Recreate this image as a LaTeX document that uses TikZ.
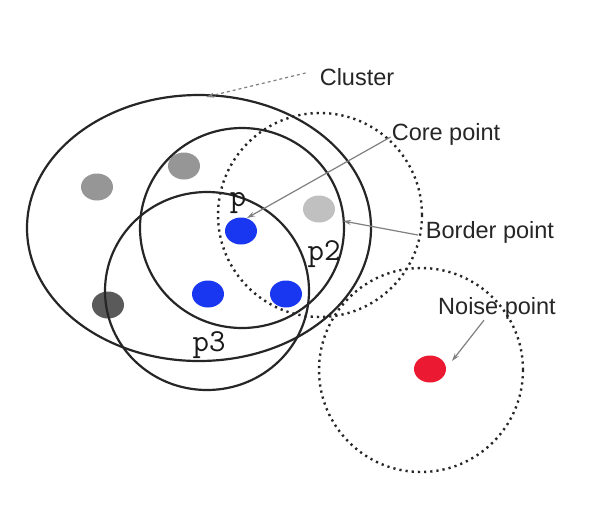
\documentclass[tikz,border=0pt]{standalone}
\usepackage{fontspec}
\setmainfont{Liberation Sans}
\usetikzlibrary{arrows.meta,shapes.geometric}
\definecolor{ptgray}{RGB}{150,150,150}
\definecolor{ptlight}{RGB}{192,192,192}
\definecolor{ptdark}{RGB}{90,90,90}
\definecolor{ptblue}{RGB}{25,55,240}
\definecolor{ptred}{RGB}{235,25,50}
\begin{document}
\begin{tikzpicture}[x=1pt,y=-1pt,
  ring/.style={draw=black!85, line width=2.2pt},
  dotring/.style={draw=black!85, line width=2.4pt, dash pattern=on 2.2pt off 4pt},
  dotpt/.style={ellipse, minimum width=32pt, minimum height=27pt, inner sep=0pt, draw=none},
  lbl/.style={font=\fontsize{23.5}{25}\selectfont, text=black!85, inner sep=0pt},
  mono/.style={font=\ttfamily\fontsize{32}{32}\selectfont, text=black!90, inner sep=0pt},
  lead/.style={draw=black!50, line width=1.2pt, -{Stealth[length=8pt,width=5pt]}}]
\useasboundingbox[fill=white] (0,0) rectangle (599,504);

% points
\node[dotpt, fill=ptgray] (g1) at (97,187) {};
\node[dotpt, fill=ptgray] (g2) at (184,166) {};
\node[dotpt, fill=ptlight] (g3) at (319,209) {};
\node[dotpt, fill=ptdark] (g4) at (108,305) {};
\node[dotpt, fill=ptblue] (b1) at (241,231) {};
\node[dotpt, fill=ptblue] (b2) at (208,294) {};
\node[dotpt, fill=ptblue] (b3) at (286,294) {};
\node[dotpt, fill=ptred] (r1) at (430,369) {};

% neighbourhoods
\draw[ring] (199,228) ellipse [x radius=172, y radius=133];
\draw[ring] (242,228) ellipse [x radius=102, y radius=100];
\draw[ring] (207,291) ellipse [x radius=102, y radius=99];
\draw[dotring] (320,215) circle [radius=102];
\draw[dotring] (421,370) circle [radius=102];

% point labels
\node[mono] (lp) at (238,203) {p};
\node[mono] (lp2) at (324,254) {p2};
\node[mono] (lp3) at (209,345) {p3};

% annotation labels
\node[lbl] (tcl) at (357,77) {Cluster};
\node[lbl] (tco) at (446,134) {Core point};
\node[lbl] (tbo) at (490,232) {Border point};
\node[lbl] (tno) at (497,308) {Noise point};

% leader end points
\coordinate (ecl) at (206,97);
\coordinate (eco) at (247,218);
\coordinate (ebo) at (343,221);
\coordinate (eno) at (452,361);

\draw[lead, dash pattern=on 3pt off 3pt] (tcl.west) ++(-14,-4) -- (ecl);
\draw[lead] (tco.west) ++(-1,3) -- (eco);
\draw[lead] (tbo.west) ++(-8,3) -- (ebo);
\draw[lead] (tno.south) ++(-13,1) -- (eno);
\end{tikzpicture}
\end{document}
